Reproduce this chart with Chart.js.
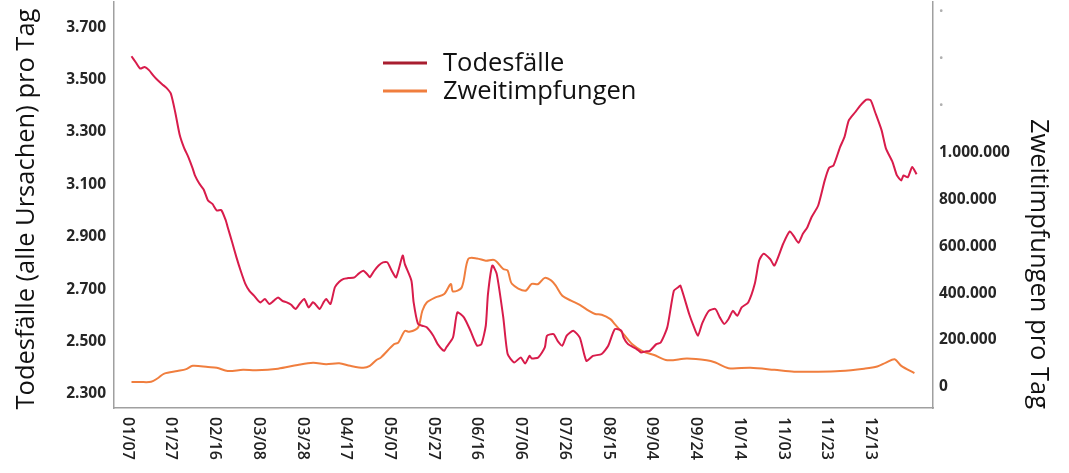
<!DOCTYPE html>
<html>
<head>
<meta charset="utf-8">
<script src="https://cdn.jsdelivr.net/npm/chart.js@4/dist/chart.umd.min.js"></script>
<style>
  html, body { margin: 0; padding: 0; background: #fff; }
  #wrap { width: 1069px; height: 473px; }
</style>
</head>
<body>
<div id="wrap"><canvas id="grafik"></canvas></div>
<script>
// Tag im Jahr (01/01 = 0) und Werte
const tageTod = [8,10,12,14,16,18,20,22,24,26,28,30,32,34,36,37,39,41,43,45,47,49,51,52,54,56,58,60,62,64,66,67,69,71,73,75,77,79,81,83,85,87,89,91,92,94,96,97,99,101,103,105,107,110,112,114,116,117,119,121,123,125,127,129,132,133,136,137,139,141,143,146,148,151,152,155,157,160,163,166,168,170,171,173,175,178,180,183,186,188,190,191,194,197,198,201,203,205,207,210,213,216,219,223,226,229,232,233,235,239,241,243,245,248,250,253,256,258,259,263,265,267,269,272,275,277,279,281,283,285,287,290,293,295,297,300,302,306,309,311,313,315,317,319,322,325,327,329,332,334,336,339,341,344,346,348,351,353,356,358,360,361,363,365,367];
const todesfaelle = [3589,3565,3542,3548,3536,3515,3497,3482,3468,3446,3375,3290,3240,3204,3160,3134,3103,3080,3038,3025,3000,3002,2965,2936,2880,2821,2768,2721,2692,2675,2655,2649,2662,2643,2655,2668,2655,2649,2640,2624,2645,2662,2630,2650,2643,2624,2652,2662,2643,2707,2728,2739,2742,2745,2760,2770,2755,2745,2770,2790,2802,2802,2770,2745,2828,2795,2732,2650,2567,2560,2554,2522,2490,2464,2478,2515,2611,2592,2541,2484,2490,2560,2681,2790,2758,2592,2452,2420,2439,2416,2445,2435,2439,2477,2522,2528,2500,2484,2522,2541,2515,2426,2445,2452,2484,2547,2541,2515,2490,2471,2458,2462,2464,2490,2496,2554,2694,2707,2713,2605,2560,2522,2570,2617,2624,2592,2567,2586,2617,2598,2630,2649,2720,2809,2835,2815,2790,2873,2920,2900,2877,2911,2935,2975,3019,3115,3163,3172,3242,3280,3344,3376,3398,3423,3421,3376,3306,3236,3185,3134,3115,3134,3127,3166,3138];

const tageImpf = [8,12,17,20,23,29,33,36,43,47,52,59,65,75,84,91,97,103,108,114,117,120,122,128,130,133,135,139,141,143,147,151,154,155,159,162,166,170,174,178,180,182,188,191,194,197,200,202,205,209,213,217,220,223,227,229,233,237,242,247,253,262,271,275,281,291,302,311,322,332,343,349,353,357,360,366];
const zweitimpfungen = [21000,21000,22000,37000,57000,68000,76000,90000,85000,82000,68000,73000,71000,78000,94000,103000,97000,101000,90000,82000,90000,115000,125000,182000,189000,239000,235000,253000,325000,360000,382000,396000,439000,407000,424000,546000,548000,538000,541000,503000,496000,439000,410000,439000,439000,465000,453000,432000,389000,368000,350000,325000,311000,308000,289000,268000,225000,182000,151000,136000,114000,121000,114000,104000,80000,82000,73000,65000,65000,68000,78000,87000,104000,118000,90000,59000];

const xTickTage = [6,26,46,66,86,106,126,146,166,186,206,226,246,266,286,306,326,346];
const xTickLabels = ['01/07','01/27','02/16','03/08','03/28','04/17','05/07','05/27','06/16','07/06','07/26','08/15','09/04','09/24','10/14','11/03','11/23','12/13'];
const linksTicks = [2300,2500,2700,2900,3100,3300,3500,3700];
const rechtsTicks = [0,200000,400000,600000,800000,1000000,1200000,1400000,1600000];

const ROT = '#d81c4b';
const ORANGE = '#f07e3e';
const LEGENDE_ROT = '#a81d2f';

function punkt(v) {
  return String(v).replace(/\B(?=(\d{3})+(?!\d))/g, '.');
}

const tickFont = { family: 'Open Sans', size: 15.5, weight: '700' };

const zusatz = {
  id: 'zusatz',
  afterDraw(chart) {
    const ctx = chart.ctx;
    const x = chart.scales.x;
    ctx.save();
    // x-Beschriftung, von oben nach unten lesend
    ctx.font = '600 16px "Open Sans"';
    ctx.fillStyle = '#222';
    ctx.textAlign = 'left';
    ctx.textBaseline = 'middle';
    xTickTage.forEach((t, i) => {
      ctx.save();
      ctx.translate(x.getPixelForValue(t), chart.chartArea.bottom + 9);
      ctx.rotate(Math.PI / 2);
      ctx.fillText(xTickLabels[i], 0, 0);
      ctx.restore();
    });

    // Achsentitel
    ctx.font = '25.5px "Open Sans"';
    ctx.fillStyle = '#111';
    ctx.textAlign = 'center';
    ctx.save();
    ctx.translate(27, 209);
    ctx.rotate(-Math.PI / 2);
    ctx.fillText('Todesfälle (alle Ursachen) pro Tag', 0, 0);
    ctx.restore();
    ctx.save();
    ctx.translate(1038, 264);
    ctx.rotate(Math.PI / 2);
    ctx.fillText('Zweitimpfungen pro Tag', 0, 0);
    ctx.restore();

    // Legende
    const farben = [LEGENDE_ROT, ORANGE];
    ctx.font = '25.5px "Open Sans"';
    ctx.textAlign = 'left';
    chart.data.datasets.forEach((ds, i) => {
      const y = 63 + i * 28;
      ctx.strokeStyle = farben[i];
      ctx.lineWidth = 3;
      ctx.beginPath();
      ctx.moveTo(383, y);
      ctx.lineTo(427, y);
      ctx.stroke();
      ctx.fillStyle = '#111';
      ctx.fillText(ds.label, 443, y + 1);
    });
    ctx.restore();
  }
};

new Chart(document.getElementById('grafik'), {
  type: 'line',
  data: {
    datasets: [{
      label: 'Todesfälle',
      data: tageTod.map((t, i) => ({ x: t, y: todesfaelle[i] })),
      borderColor: ROT,
      borderWidth: 2,
      pointRadius: 0,
      tension: 0.2,
      yAxisID: 'y'
    }, {
      label: 'Zweitimpfungen',
      data: tageImpf.map((t, i) => ({ x: t, y: zweitimpfungen[i] })),
      borderColor: ORANGE,
      borderWidth: 2,
      pointRadius: 0,
      tension: 0.3,
      yAxisID: 'y1'
    }]
  },
  options: {
    responsive: true,
    maintainAspectRatio: false,
    animation: false,
    layout: { padding: { top: 2, left: 0, right: 0, bottom: 0 } },
    plugins: { legend: { display: false }, tooltip: { enabled: false } },
    scales: {
      x: {
        type: 'linear',
        min: 0,
        max: 374.5,
        grid: { display: false },
        border: { display: true, color: '#a0a0a0', width: 1.5 },
        ticks: { display: false },
        afterFit(s) { s.height = 65; s.paddingLeft = 0; s.paddingRight = 0; }
      },
      y: {
        position: 'left',
        min: 2246,
        max: 3796,
        grid: { display: false, drawTicks: false },
        border: { display: true, color: '#a0a0a0', width: 1.5 },
        ticks: {
          padding: 8,
          color: '#262626',
          font: tickFont,
          callback: v => punkt(v)
        },
        afterBuildTicks(s) { s.ticks = linksTicks.map(v => ({ value: v })); },
        afterFit(s) { s.width = 114; s.paddingTop = 0; s.paddingBottom = 0; }
      },
      y1: {
        position: 'right',
        min: -89744,
        max: 1641026,
        grid: { display: false, drawTicks: false },
        border: { display: true, color: '#a0a0a0', width: 1.5 },
        ticks: {
          padding: 6,
          color: c => (c.tick && c.tick.value > 1000000) ? '#b0b0b0' : '#262626',
          font: tickFont,
          callback: v => v > 1000000 ? '·' : punkt(v)
        },
        afterBuildTicks(s) { s.ticks = rechtsTicks.map(v => ({ value: v })); },
        afterFit(s) { s.width = 136; s.paddingTop = 0; s.paddingBottom = 0; }
      }
    }
  },
  plugins: [zusatz]
});
</script>
</body>
</html>
